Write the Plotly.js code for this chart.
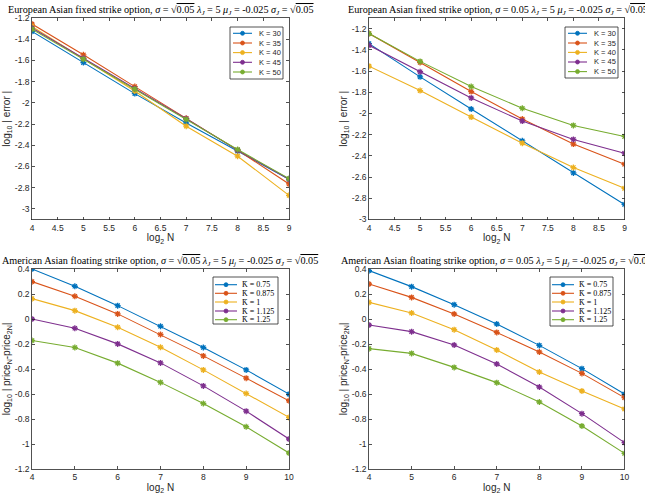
<!DOCTYPE html>
<html>
<head>
<meta charset="utf-8">
<script src="https://cdn.plot.ly/plotly-3.0.1.min.js"></script>
<style>html,body{margin:0;padding:0;background:#fff;}#chart{width:645px;height:501px;}</style>
</head>
<body>
<div id="chart"></div>
<script>
// ---------- data ----------
const nTop = [4, 5, 6, 7, 8, 9];
const nBottom = [4, 5, 6, 7, 8, 9, 10];

const strikeNames = ['K = 30', 'K = 35', 'K = 40', 'K = 45', 'K = 50'];
const kbarNames = ['K\u0304 = 0.75', 'K\u0304 = 0.875', 'K\u0304 = 1', 'K\u0304 = 1.125', 'K\u0304 = 1.25'];
const colors = ['#0072BD', '#D95319', '#EDB120', '#7E2F8E', '#77AC30'];

// Panel 1: European, sigma = sqrt(0.05)
const p1_K30 = [-1.326, -1.620, -1.913, -2.190, -2.455, -2.720];
const p1_K35 = [-1.257, -1.547, -1.847, -2.146, -2.446, -2.765];
const p1_K40 = [-1.280, -1.580, -1.888, -2.220, -2.503, -2.872];
const p1_K45 = [-1.295, -1.580, -1.866, -2.150, -2.446, -2.720];
const p1_K50 = [-1.305, -1.588, -1.870, -2.156, -2.440, -2.714];

// Panel 2: European, sigma = 0.05
const p2_K30 = [-1.342, -1.655, -1.958, -2.258, -2.561, -2.858];
const p2_K35 = [-1.247, -1.519, -1.794, -2.053, -2.289, -2.479];
const p2_K40 = [-1.554, -1.784, -2.034, -2.280, -2.510, -2.706];
const p2_K45 = [-1.358, -1.607, -1.854, -2.072, -2.245, -2.375];
const p2_K50 = [-1.247, -1.509, -1.746, -1.951, -2.113, -2.217];

// Panel 3: American floating, sigma = sqrt(0.05)
const p3_K075 = [0.400, 0.262, 0.107, -0.058, -0.228, -0.407, -0.601];
const p3_K0875 = [0.299, 0.182, 0.041, -0.124, -0.295, -0.473, -0.654];
const p3_K1 = [0.163, 0.067, -0.066, -0.226, -0.407, -0.596, -0.787];
const p3_K1125 = [0.000, -0.074, -0.199, -0.351, -0.535, -0.737, -0.960];
const p3_K125 = [-0.172, -0.228, -0.353, -0.507, -0.676, -0.862, -1.072];

// Panel 4: American floating, sigma = 0.05
const p4_K075 = [0.387, 0.259, 0.115, -0.040, -0.211, -0.397, -0.600];
const p4_K0875 = [0.280, 0.173, 0.040, -0.107, -0.264, -0.435, -0.629];
const p4_K1 = [0.133, 0.048, -0.085, -0.248, -0.424, -0.576, -0.720];
const p4_K1125 = [-0.048, -0.101, -0.208, -0.360, -0.544, -0.757, -0.989];
const p4_K125 = [-0.237, -0.275, -0.387, -0.509, -0.664, -0.856, -1.075];

// tick values / labels
const xTicksTop = [4, 4.5, 5, 5.5, 6, 6.5, 7, 7.5, 8, 8.5, 9];
const xTickLabelsTop = ['4', '4.5', '5', '5.5', '6', '6.5', '7', '7.5', '8', '8.5', '9'];
const xTicksBottom = [4, 5, 6, 7, 8, 9, 10];
const xTickLabelsBottom = ['4', '5', '6', '7', '8', '9', '10'];
const yTicksTop = [-3, -2.8, -2.6, -2.4, -2.2, -2, -1.8, -1.6, -1.4, -1.2];
const yTickLabelsTop = ['-3', '-2.8', '-2.6', '-2.4', '-2.2', '-2', '-1.8', '-1.6', '-1.4', '-1.2'];
const yTicksBottom = [-1.2, -1, -0.8, -0.6, -0.4, -0.2, 0, 0.2, 0.4];
const yTickLabelsBottom = ['-1.2', '-1', '-0.8', '-0.6', '-0.4', '-0.2', '0', '0.2', '0.4'];

const SQ = '√<span style="text-decoration:overline">0.05</span>';
const titles = [
  'European Asian fixed strike option, <i>σ</i> = ' + SQ + ' <i>λ<sub>J</sub></i> = 5 <i>μ<sub>J</sub></i> = -0.025 <i>σ<sub>J</sub></i> = ' + SQ,
  'European Asian fixed strike option, <i>σ</i> = 0.05 <i>λ<sub>J</sub></i> = 5 <i>μ<sub>J</sub></i> = -0.025 <i>σ<sub>J</sub></i> = ' + SQ,
  'American Asian floating strike option, <i>σ</i> = ' + SQ + ' <i>λ<sub>J</sub></i> = 5 <i>μ<sub>j</sub></i> = -0.025 <i>σ<sub>J</sub></i> = ' + SQ,
  'American Asian floating strike option, <i>σ</i> = 0.05 <i>λ<sub>J</sub></i> = 5 <i>μ<sub>j</sub></i> = -0.025 <i>σ<sub>J</sub></i> = ' + SQ
];
const yLabelTop = 'log<sub>10</sub> | error |';
const yLabelBottom = 'log<sub>10</sub> | price<sub>N</sub>-price<sub>2N</sub>|';
const xLabel = 'log<sub>2</sub> N';

// ---------- build ----------
const W = 645, H = 501;
const px = x => x / W;
const py = y => 1 - y / H;

const panels = [
  {x: nTop, series: [p1_K30, p1_K35, p1_K40, p1_K45, p1_K50], names: strikeNames, ax: ''},
  {x: nTop, series: [p2_K30, p2_K35, p2_K40, p2_K45, p2_K50], names: strikeNames, ax: '2'},
  {x: nBottom, series: [p3_K075, p3_K0875, p3_K1, p3_K1125, p3_K125], names: kbarNames, ax: '3'},
  {x: nBottom, series: [p4_K075, p4_K0875, p4_K1, p4_K1125, p4_K125], names: kbarNames, ax: '4'}
];

const traces = [];
panels.forEach(p => {
  p.series.forEach((ys, i) => {
    traces.push({
      x: p.x, y: ys, type: 'scatter', mode: 'lines+markers',
      name: p.names[i], showlegend: false,
      xaxis: 'x' + p.ax, yaxis: 'y' + p.ax,
      line: {color: colors[i], width: 1.1},
      marker: {symbol: 'asterisk-open', size: 5, color: colors[i], line: {color: colors[i], width: 1.3}}
    });
  });
});

const axisColor = '#262626';
function axis(domain, range, tv, tt, anchor, title, standoff) {
  return {
    domain, range, anchor, tickmode: 'array', tickvals: tv, ticktext: tt,
    ticks: 'inside', ticklen: 3, tickwidth: 0.8, tickcolor: axisColor,
    showline: true, linecolor: axisColor, linewidth: 0.8, mirror: 'ticks',
    showgrid: false, zeroline: false, fixedrange: true,
    tickfont: {family: 'Liberation Sans, Arial, sans-serif', size: 8.5, color: axisColor},
    title: {text: title, standoff: standoff, font: {family: 'Liberation Sans, Arial, sans-serif', size: 10, color: axisColor}}
  };
}

const xLeft = [px(32), px(289)], xRight = [px(369), px(624.5)];
const yTopDom = [py(219.5), py(18)], yBotDom = [py(469), py(269)];

const layout = {
  width: W, height: H, margin: {l: 0, r: 0, t: 0, b: 0},
  paper_bgcolor: '#fff', plot_bgcolor: '#fff', showlegend: false,
  xaxis: axis(xLeft, [4, 9], xTicksTop, xTickLabelsTop, 'y', xLabel, 2),
  yaxis: axis(yTopDom, [-3.1, -1.2], yTicksTop, yTickLabelsTop, 'x', yLabelTop, 2),
  xaxis2: axis(xRight, [4, 9], xTicksTop, xTickLabelsTop, 'y2', xLabel, 2),
  yaxis2: axis(yTopDom, [-3, -1.1], yTicksTop, yTickLabelsTop, 'x2', yLabelTop, 2),
  xaxis3: axis(xLeft, [4, 10], xTicksBottom, xTickLabelsBottom, 'y3', xLabel, 2),
  yaxis3: axis(yBotDom, [-1.2, 0.4], yTicksBottom, yTickLabelsBottom, 'x3', yLabelBottom, 2),
  xaxis4: axis(xRight, [4, 10], xTicksBottom, xTickLabelsBottom, 'y4', xLabel, 2),
  yaxis4: axis(yBotDom, [-1.2, 0.4], yTicksBottom, yTickLabelsBottom, 'x4', yLabelBottom, 2),
  annotations: [],
  shapes: []
};

// titles
const titlePos = [[161, 10.5], [498, 10.5], [160, 261.5], [497, 261.5]];
titles.forEach((t, i) => {
  layout.annotations.push({
    text: t, xref: 'paper', yref: 'paper', x: px(titlePos[i][0]), y: py(titlePos[i][1]),
    xanchor: 'center', yanchor: 'middle', showarrow: false,
    font: {family: 'Liberation Serif, Times New Roman, serif', size: 10.2, color: '#000'}
  });
});

// legends (drawn as boxes + sample lines + labels)
const legends = [
  {box: [230, 27, 283, 79], line: [233, 252], text: 257, rows: [33.3, 43, 52.6, 62.3, 72], names: strikeNames,
   font: {family: 'Liberation Sans, Arial, sans-serif', size: 7.5, color: axisColor}},
  {box: [565, 27, 618, 78], line: [568, 587], text: 592, rows: [33.3, 43, 52.4, 62, 71.6], names: strikeNames,
   font: {family: 'Liberation Sans, Arial, sans-serif', size: 7.5, color: axisColor}},
  {box: [213, 277, 278, 324], line: [215, 237], text: 240, rows: [284.7, 293.3, 302, 311, 319.7], names: kbarNames,
   font: {family: 'Liberation Serif, Times New Roman, serif', size: 8, color: '#000'}},
  {box: [550, 277, 613, 326], line: [552, 574], text: 577, rows: [284.7, 293.3, 302, 311, 319.7], names: kbarNames,
   font: {family: 'Liberation Serif, Times New Roman, serif', size: 8, color: '#000'}}
];
legends.forEach(lg => {
  layout.shapes.push({type: 'rect', xref: 'paper', yref: 'paper',
    x0: px(lg.box[0]), x1: px(lg.box[2]), y0: py(lg.box[3]), y1: py(lg.box[1]),
    line: {color: axisColor, width: 0.8}, fillcolor: '#fff', layer: 'above'});
  lg.names.forEach((nm, i) => {
    const y = py(lg.rows[i]);
    layout.shapes.push({type: 'line', xref: 'paper', yref: 'paper',
      x0: px(lg.line[0]), x1: px(lg.line[1]), y0: y, y1: y,
      line: {color: colors[i], width: 1.1}, layer: 'above'});
    const cx = (lg.line[0] + lg.line[1]) / 2;
    layout.shapes.push({type: 'circle', xref: 'paper', yref: 'paper',
      x0: px(cx - 2), x1: px(cx + 2), y0: py(lg.rows[i] + 2), y1: py(lg.rows[i] - 2),
      line: {color: colors[i], width: 0.8}, fillcolor: colors[i], layer: 'above'});
    layout.annotations.push({text: nm, xref: 'paper', yref: 'paper', x: px(lg.text), y: y,
      xanchor: 'left', yanchor: 'middle', showarrow: false, font: lg.font});
  });
});

Plotly.newPlot('chart', traces, layout, {staticPlot: true, displayModeBar: false});
</script>
</body>
</html>
